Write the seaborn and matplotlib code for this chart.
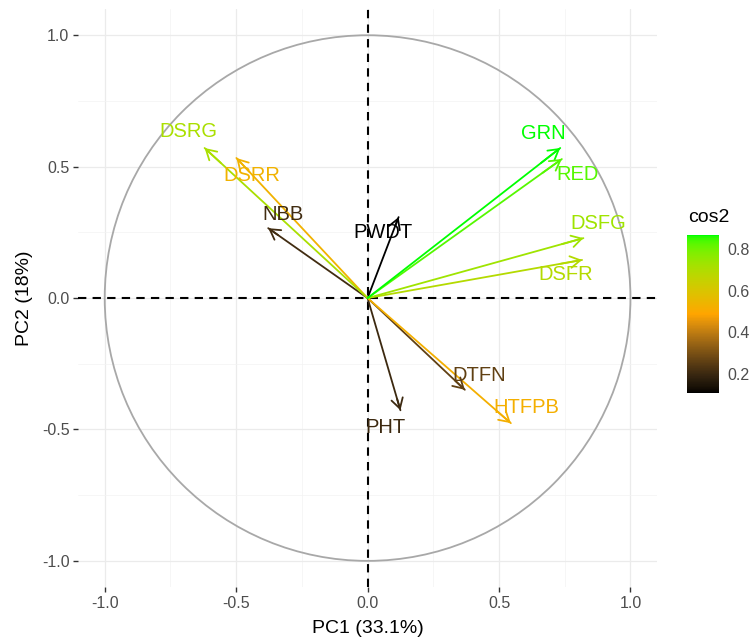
import numpy as np
import pandas as pd
import matplotlib
matplotlib.use("Agg")
import matplotlib.pyplot as plt
import seaborn as sns
from matplotlib.colors import ListedColormap, Normalize
from matplotlib.cm import ScalarMappable
from matplotlib.patches import Circle

# ---- data ----
variables = ["DSRG", "DSRR", "NBB", "PWDT", "GRN", "RED", "DSFG", "DSFR", "DTFN", "PHT", "HTFPB"]
pc1 = [-0.620, -0.499, -0.378, 0.118, 0.733, 0.739, 0.821, 0.816, 0.370, 0.125, 0.545]
pc2 = [0.571, 0.533, 0.266, 0.308, 0.571, 0.529, 0.228, 0.145, -0.349, -0.427, -0.476]
cos2 = [0.71, 0.53, 0.21, 0.108, 0.866, 0.83, 0.73, 0.69, 0.26, 0.20, 0.52]
label_x = [-0.683, -0.441, -0.321, 0.057, 0.669, 0.799, 0.879, 0.752, 0.426, 0.068, 0.602]
label_y = [0.632, 0.467, 0.319, 0.248, 0.628, 0.470, 0.282, 0.088, -0.294, -0.491, -0.415]
xlabel = "PC1 (33.1%)"
ylabel = "PC2 (18%)"
ticks = [-1.0, -0.5, 0.0, 0.5, 1.0]
cbar_ticks = [0.2, 0.4, 0.6, 0.8]
gradient_cols = [(0, 0, 0), (255, 165, 0), (0, 255, 0)]  # black, orange, green


# ---- Lab interpolation of gradient (as ggplot does) ----
def srgb_to_lab(rgb):
    c = np.asarray(rgb, float) / 255.0
    c = np.where(c <= 0.04045, c / 12.92, ((c + 0.055) / 1.055) ** 2.4)
    M = np.array([[0.4124, 0.3576, 0.1805], [0.2126, 0.7152, 0.0722], [0.0193, 0.1192, 0.9505]])
    xyz = M @ c / np.array([0.95047, 1.0, 1.08883])
    f = np.where(xyz > 0.008856, np.cbrt(xyz), 7.787 * xyz + 16 / 116)
    return np.array([116 * f[1] - 16, 500 * (f[0] - f[1]), 200 * (f[1] - f[2])])


def lab_to_srgb(lab):
    L, a, b = lab
    fy = (L + 16) / 116
    fx = fy + a / 500
    fz = fy - b / 200
    f = np.array([fx, fy, fz])
    xyz = np.where(f ** 3 > 0.008856, f ** 3, (f - 16 / 116) / 7.787) * np.array([0.95047, 1.0, 1.08883])
    Minv = np.array([[3.2406, -1.5372, -0.4986], [-0.9689, 1.8758, 0.0415], [0.0557, -0.2040, 1.0570]])
    c = Minv @ xyz
    c = np.where(c <= 0.0031308, 12.92 * c, 1.055 * np.clip(c, 0, None) ** (1 / 2.4) - 0.055)
    return np.clip(c, 0, 1)


labs = [srgb_to_lab(c) for c in gradient_cols]
cols = []
for t in np.linspace(0, 1, 256):
    seg = min(int(t * 2), 1)
    u = t * 2 - seg
    cols.append(lab_to_srgb(labs[seg] * (1 - u) + labs[seg + 1] * u))
cmap = ListedColormap(cols)
norm = Normalize(vmin=min(cos2), vmax=max(cos2))

# ---- plot ----
sns.set_theme(style="whitegrid")
plt.rcParams["font.family"] = ["Liberation Sans", "DejaVu Sans"]
plt.rcParams["axes.unicode_minus"] = False

fig = plt.figure(figsize=(7.54, 6.41), dpi=100)
ax = fig.add_axes([0.104, 0.084, 0.767, 0.902])
ax.set_facecolor("white")
ax.set_xlim(-1.1, 1.1)
ax.set_ylim(-1.1, 1.1)
ax.set_xticks(ticks)
ax.set_yticks(ticks)
ax.set_xticklabels([f"{t:.1f}" for t in ticks])
ax.set_yticklabels([f"{t:.1f}" for t in ticks])
ax.set_xticks([-0.75, -0.25, 0.25, 0.75], minor=True)
ax.set_yticks([-0.75, -0.25, 0.25, 0.75], minor=True)
ax.grid(which="major", color="#EBEBEB", lw=0.9)
ax.grid(which="minor", color="#F3F3F3", lw=0.5)
for s in ax.spines.values():
    s.set_visible(False)
ax.tick_params(which="major", length=3.5, width=1.0, color="#333333",
               labelcolor="#4D4D4D", labelsize=11.5, pad=3, bottom=True, left=True)
ax.tick_params(which="minor", length=0)
ax.set_axisbelow(True)

ax.add_patch(Circle((0, 0), 1, fill=False, color="#A8A8A8", lw=1.3, zorder=2))
ax.axhline(0, color="black", lw=1.5, ls=(0, (4, 3)), zorder=2)
ax.axvline(0, color="black", lw=1.5, ls=(0, (4, 3)), zorder=2)

# arrow shafts through seaborn
seg_df = pd.DataFrame({
    "var": np.repeat(variables, 2),
    "x": np.ravel([[0.0, x] for x in pc1]),
    "y": np.ravel([[0.0, y] for y in pc2]),
    "cos2": np.repeat(cos2, 2),
})
sns.lineplot(data=seg_df, x="x", y="y", units="var", estimator=None, sort=False,
             hue="cos2", palette=cmap, hue_norm=norm, legend=False, lw=1.3, ax=ax, zorder=3)

for v, x, y, c, lx, ly in zip(variables, pc1, pc2, cos2, label_x, label_y):
    col = cmap(norm(c))
    ax.annotate("", xy=(x, y), xytext=(x * 0.9, y * 0.9),
                arrowprops=dict(arrowstyle="->,head_length=0.6,head_width=0.35",
                                color=col, lw=1.3, shrinkA=0, shrinkB=0,
                                mutation_scale=12), zorder=4)
    ax.text(lx, ly, v, color=col, ha="center", va="center", fontsize=14.5, zorder=5)

ax.set_xlabel(xlabel, fontsize=14, color="black", labelpad=6)
ax.set_ylabel(ylabel, fontsize=14, color="black", labelpad=6)

# colourbar
cax = fig.add_axes([0.911, 0.387, 0.042, 0.246])
cb = fig.colorbar(ScalarMappable(norm=norm, cmap=cmap), cax=cax)
cb.outline.set_visible(False)
cb.set_ticks(cbar_ticks)
cb.set_ticklabels([f"{t:.1f}" for t in cbar_ticks])
cax.tick_params(direction="in", color="white", length=5, width=1,
                left=True, right=True, labelleft=False, labelright=True,
                labelsize=11.5, labelcolor="#4D4D4D", pad=6)
fig.text(0.912, 0.66, "cos2", fontsize=14, color="black", ha="left", va="center")

fig.savefig("out.png", dpi=100)
